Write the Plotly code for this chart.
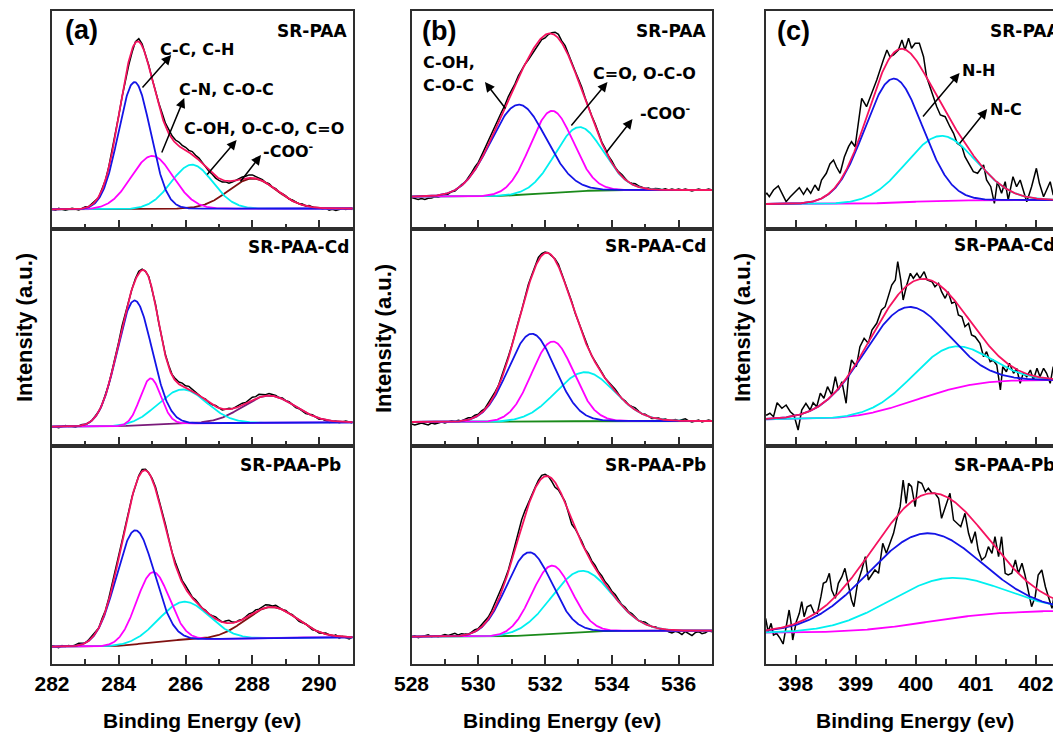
import math
import numpy as np
import plotly.graph_objects as go

# The page places the figure 8 px from the top-left corner, so the figure is
# built 8 px smaller and every reference pixel position is shifted by 8.
OFF = 8
W, H = 1061 - OFF, 733 - OFF

# ---------------- data (intensity in arbitrary units) ----------------
# Panel (a) C 1s : components C-C/C-H, C-N/C-O-C, C-OH/O-C-O/C=O, -COO-
a_range = [282.0, 291.0]
a_bg = [(19.7, 20.5), (19.3, 23.7), (17.3, 26.7)]
a_centers = [[284.47, 285.00, 286.19, 288.01],
             [284.47, 284.95, 285.91, 288.49],
             [284.49, 285.02, 285.96, 288.56]]
a_heights = [[127, 53, 44, 30], [125, 46, 34, 27], [114, 70, 38, 31]]
a_widths = [[0.48, 0.63, 0.62, 0.72], [0.52, 0.31, 0.72, 0.78], [0.57, 0.49, 0.74, 0.77]]
# raw-minus-fit residuals, 0.1 eV steps from 282.0
a_resid = [
    [0, -1, 1, 0, -1, 0, 1, 0, -1, 0, 1, 0, 1, 0, -1, 1, 0, 1, 2, 1,
     0, -1, -2, -4, -3, 1, 3, 2, 0, 1, 1, 2, 3, 4, 3, 4, 3, 3, 4, 3,
     3, 2, 3, 2, 2, 1, 0, -1, -1, -2, -2, -2, -1, -2, -1, 0, 1, 2, 2, 3,
     3, 2, 1, 1, 0, 1, 0, 1, 0, 1, 1, 0, 1, 1, 0, 1, 0, 1, 0, -1,
     0, -1, 0, -2, -1, -2, -1, 0, -1, 0, -1],
    [0, 0, -1, 0, 1, 0, 0, -1, 0, 1, 0, 0, 0, 1, 0, 0, 1, 0, 1, 0,
     0, 1, 0, -1, 0, 1, 2, 1, 0, 1, 0, 1, 0, 1, 1, 2, 1, 2, 2, 3,
     2, 3, 2, 1, 1, 0, 1, 0, 0, 1, 0, -1, 0, 1, 0, 1, 1, 2, 1, 2,
     3, 2, 3, 2, 1, 2, 1, 1, 0, 1, 0, 1, 0, -1, 0, 0, -1, 0, 1, 0,
     -1, 0, -1, -2, -1, 0, -1, 0, 1, 0, -1],
    [1, 0, -1, 1, 0, 1, 0, 1, 2, 1, 0, 1, 2, 1, 0, 2, 1, 2, 3, 2,
     2, 1, 0, -1, 0, -1, 1, 2, 1, 0, 1, 2, 2, 3, 4, 3, 2, 3, 3, 2,
     3, 2, 1, 2, 1, 0, 1, 0, 1, 2, 1, 0, 2, 3, 1, 0, 1, 0, 1, 2,
     1, 2, 1, 2, 3, 2, 1, 2, 1, 0, 1, 0, 1, 0, -1, 0, 1, 0, -1, 0,
     -1, 0, 1, 0, -1, 1, -2, 0, -1, -2, 0],
]

# Panel (b) O 1s : components C-OH/C-O-C, C=O/O-C-O, -COO-
b_range = [528.0, 537.0]
b_bg = [(32.3, 39.0), (24.0, 25.0), (27.3, 33.3)]
b_centers = [[531.20, 532.20, 533.02], [531.60, 532.23, 533.20], [531.52, 532.20, 533.10]]
b_heights = [[90.5, 82, 64], [88, 80, 49], [83, 68, 61]]
b_widths = [[0.83, 0.64, 0.72], [0.70, 0.63, 0.87], [0.68, 0.60, 0.90]]
b_resid = [
    [-1, -2, -3, -2, -3, -2, -2, -1, -2, -1, -1, -1, 0, -1, 0, 1, 0, 1, 2, 3,
     2, 3, 4, 3, 4, 5, 4, 3, 2, 3, 2, 1, 2, 1, 0, -2, -3, -4, -3, -2,
     -3, -1, 1, 3, 4, 2, 3, 1, 2, 1, 2, 3, 2, 1, 2, 3, 2, 1, 2, 1,
     2, 1, 1, 2, 1, 0, 1, 2, 1, 1, 0, 1, 0, 1, 1, 0, 1, 0, 1, 0,
     1, 0, 1, 0, -1, 0, 1, 0, 0, 1, 0],
    [-2, -3, -2, -1, -2, -3, -1, -2, -1, 0, -1, 0, 1, 0, 1, 0, 1, 2, 1, 2,
     1, 2, 1, 2, 3, 2, 1, 2, 1, 2, 1, 2, 1, 0, 1, 2, 1, 2, 3, 2,
     1, 0, -1, 1, 2, 1, 2, 3, 2, 1, 2, 1, 2, 1, 0, 1, 2, 1, 0, 1,
     1, 2, 1, 0, 1, 0, 1, 2, 1, 0, 1, 0, -1, 0, 1, 0, 1, 0, 0, 1,
     0, 1, 2, 0, -1, 0, 1, -1, 0, 1, 0],
    [0, 1, -1, 0, 1, 2, 0, 1, 0, 1, 2, 1, 2, 3, 1, 2, 1, 0, 1, 2,
     1, 2, 3, 2, 3, 4, 5, 4, 3, 2, 3, 4, 6, 7, 5, 3, 2, 1, 2, 3,
     2, 0, -3, -5, -2, -1, 1, -2, -5, -1, 1, 2, 1, 3, 2, 3, 2, 3, 2, 3,
     2, 3, 2, 1, 2, 1, 2, 1, 0, 1, 2, 1, 0, 1, 0, -1, 0, -2, -3, -1,
     -2, -4, -1, -3, -5, -2, -1, -3, -2, 0, -1],
]

# Panel (c) N 1s : components N-H, N-C
c_range = [397.5, 402.42]
c_bg = [(25.0, 29.0), (26.7, 66.0), (31.3, 53.3)]
c_centers = [[399.63, 400.42], [399.80, 400.57], [400.11, 400.45]]
c_heights = [[124, 65], [96, 42], [89, 41]]
c_widths = [[0.48, 0.58], [0.70, 0.62], [0.95, 0.95]]
# raw N 1s spectra (noisy)
c_raw_x = [
    [397.50, 397.52, 397.56, 397.63, 397.71, 397.79, 397.84, 397.91, 397.99, 398.06,
     398.13, 398.19, 398.25, 398.32, 398.38, 398.43, 398.51, 398.57, 398.63, 398.68,
     398.74, 398.81, 398.88, 398.93, 398.99, 399.04, 399.10, 399.18, 399.27, 399.35,
     399.46, 399.52, 399.57, 399.63, 399.71, 399.77, 399.82, 399.88, 399.93, 399.99,
     400.06, 400.13, 400.18, 400.27, 400.35, 400.41, 400.49, 400.57, 400.63, 400.69,
     400.77, 400.82, 400.88, 400.96, 401.03, 401.13, 401.18, 401.25, 401.31, 401.36,
     401.43, 401.49, 401.54, 401.62, 401.68, 401.74, 401.79, 401.85, 401.93, 402.01,
     402.06, 402.13, 402.18, 402.24, 402.29, 402.35, 402.42, 402.50],
    [397.50, 397.52, 397.57, 397.63, 397.69, 397.77, 397.84, 397.91, 397.97, 398.04,
     398.10, 398.17, 398.24, 398.29, 398.35, 398.41, 398.47, 398.53, 398.60, 398.66,
     398.71, 398.77, 398.84, 398.88, 398.93, 399.01, 399.07, 399.14, 399.21, 399.27,
     399.35, 399.43, 399.49, 399.54, 399.60, 399.66, 399.70, 399.75, 399.79, 399.85,
     399.91, 399.96, 400.02, 400.07, 400.14, 400.19, 400.27, 400.32, 400.38, 400.43,
     400.49, 400.54, 400.60, 400.66, 400.71, 400.77, 400.82, 400.88, 400.93, 400.99,
     401.07, 401.13, 401.18, 401.24, 401.29, 401.35, 401.41, 401.45, 401.51, 401.56,
     401.63, 401.68, 401.74, 401.79, 401.85, 401.91, 401.96, 402.02, 402.07, 402.13,
     402.18, 402.24, 402.29, 402.35, 402.42, 402.50],
    [397.50, 397.54, 397.59, 397.63, 397.68, 397.74, 397.79, 397.84, 397.89, 397.92,
     397.95, 398.01, 398.06, 398.10, 398.14, 398.19, 398.25, 398.31, 398.36, 398.42,
     398.46, 398.51, 398.56, 398.60, 398.66, 398.71, 398.77, 398.82, 398.88, 398.93,
     398.97, 399.03, 399.10, 399.16, 399.21, 399.27, 399.32, 399.38, 399.45, 399.51,
     399.57, 399.63, 399.68, 399.74, 399.79, 399.84, 399.88, 399.93, 399.99, 400.04,
     400.10, 400.16, 400.21, 400.27, 400.32, 400.38, 400.43, 400.49, 400.57, 400.63,
     400.69, 400.75, 400.82, 400.88, 400.93, 400.99, 401.04, 401.10, 401.16, 401.21,
     401.27, 401.32, 401.38, 401.43, 401.49, 401.54, 401.60, 401.66, 401.71, 401.77,
     401.82, 401.88, 401.93, 401.99, 402.04, 402.10, 402.16, 402.21, 402.27, 402.32,
     402.38, 402.42, 402.50],
]
c_raw_y = [
    [35.0, 35.7, 32.3, 39.0, 43.0, 34.0, 27.3, 32.3, 37.3, 41.3,
     34.7, 40.7, 35.7, 44.0, 38.3, 49.0, 55.7, 65.0, 69.0, 62.0,
     55.7, 72.0, 82.3, 87.3, 82.3, 102.3, 130.7, 122.3, 135.7, 149.0,
     169.0, 179.0, 172.3, 174.0, 179.0, 189.0, 179.0, 190.7, 180.7, 185.7,
     185.7, 172.3, 152.3, 135.7, 122.3, 114.0, 112.3, 102.3, 95.7, 85.7,
     82.3, 72.3, 65.7, 57.3, 55.7, 64.0, 49.0, 42.3, 25.7, 47.3,
     35.7, 47.3, 29.0, 52.3, 42.3, 49.0, 39.0, 27.3, 42.3, 60.7,
     45.7, 32.3, 39.0, 47.3, 34.0, 49.0, 42.3, 38.0],
    [31.0, 31.0, 32.7, 29.3, 43.3, 37.7, 41.0, 34.3, 31.0, 16.0,
     36.0, 42.7, 36.0, 43.3, 39.3, 52.7, 47.7, 59.3, 51.0, 69.3,
     56.0, 64.3, 42.7, 69.3, 86.0, 79.3, 99.3, 107.7, 102.7, 116.0,
     122.7, 136.0, 139.3, 149.3, 161.0, 166.0, 184.3, 166.0, 146.0, 161.0,
     172.7, 167.7, 172.7, 167.7, 174.3, 166.0, 164.3, 159.3, 162.7, 154.3,
     147.7, 154.3, 142.7, 144.3, 131.0, 129.3, 119.3, 122.7, 111.0, 109.3,
     102.7, 89.3, 94.3, 84.3, 86.0, 81.0, 56.0, 79.3, 74.3, 82.7,
     72.7, 77.7, 62.7, 72.7, 69.3, 76.0, 66.0, 77.7, 69.3, 77.7,
     72.7, 62.7, 79.3, 72.7, 79.3, 70.0],
    [45.7, 32.3, 40.7, 29.0, 30.7, 25.7, 20.0, 37.3, 54.0, 42.3,
     24.0, 42.3, 50.7, 62.3, 47.3, 57.3, 59.0, 50.7, 50.7, 67.3,
     80.7, 82.3, 90.7, 74.0, 65.7, 80.7, 87.3, 95.7, 77.3, 64.0,
     57.3, 80.7, 94.0, 107.3, 84.0, 89.0, 94.0, 90.7, 120.7, 110.7,
     120.7, 130.7, 144.0, 157.3, 184.0, 160.7, 180.7, 177.3, 157.3, 182.3,
     180.7, 172.3, 175.7, 170.7, 170.7, 165.7, 145.7, 157.3, 170.7, 144.0,
     140.7, 137.3, 150.7, 130.7, 120.7, 132.3, 114.0, 104.0, 107.3, 117.3,
     110.7, 127.3, 107.3, 127.3, 90.7, 89.0, 90.7, 104.0, 90.7, 100.7,
     89.0, 72.3, 57.3, 67.3, 89.0, 94.0, 77.3, 67.3, 55.7, 74.0,
     84.0, 64.0, 70.0],
]

row_labels = ["SR-PAA", "SR-PAA-Cd", "SR-PAA-Pb"]
row_heights_px = [218, 217, 218]

# ---------------- helpers ----------------
_erf = np.vectorize(math.erf)


def gauss(x, c, h, s):
    return h * np.exp(-(x - c) ** 2 / (2 * s * s))


def shirley(x, cs, hs, ss, lo, hi):
    areas = [h * s for h, s in zip(hs, ss)]
    cum = sum(ar * 0.5 * (1 + _erf((x - c) / (s * math.sqrt(2))))
              for ar, c, s in zip(areas, cs, ss))
    return lo + (hi - lo) * cum / sum(areas)


def envelope(x, cs, hs, ss, lo, hi):
    return shirley(x, cs, hs, ss, lo, hi) + sum(gauss(x, c, h, s) for c, h, s in zip(cs, hs, ss))


def fx(px):
    return (px - OFF) / W


def fy(py):
    return 1 - (py - OFF) / H


# ---------------- layout geometry (reference pixels) ----------------
col_px = [(52.0, 352.5), (411.5, 712.0), (765.7, 1061.0)]
row_px = [(11.0, 229.0), (229.0, 446.0), (446.0, 664.0)]

RED = "#f5135f"
BLUE = "#1414e6"
MAG = "#ff00ff"
CYAN = "#00f0f0"
BROWN = "#801010"
PURPLE = "#7a1a7a"
GREEN = "#1a8a1a"
FRAME = "#2e2e2e"

fig = go.Figure()


def ax_id(r, c):
    return r * 3 + c + 1


def add_line(k, x, y, color, width=1.8):
    fig.add_trace(go.Scatter(x=x, y=y, mode="lines", line=dict(color=color, width=width),
                             xaxis=f"x{k}", yaxis=f"y{k}", showlegend=False, hoverinfo="skip"))


panels = [
    (a_range, a_bg, a_centers, a_heights, a_widths),
    (b_range, b_bg, b_centers, b_heights, b_widths),
    (c_range, c_bg, c_centers, c_heights, c_widths),
]

for col, (xr, bgs, centers, heights, widths) in enumerate(panels):
    for row in range(3):
        k = ax_id(row, col)
        cs, hs, ss = centers[row], heights[row], widths[row]
        lo, hi = bgs[row]
        xs = np.linspace(xr[0], xr[1] + 0.1, 600)
        bg = shirley(xs, cs, hs, ss, lo, hi)
        # raw data
        if col == 0:
            res = a_resid[row]
            xr_ = np.array([282.0 + 0.1 * i for i in range(len(res))])
            add_line(k, xr_, envelope(xr_, cs, hs, ss, lo, hi) + np.array(res), "black", 1.5)
        elif col == 1:
            res = b_resid[row]
            xr_ = np.array([528.0 + 0.1 * i for i in range(len(res))])
            add_line(k, xr_, envelope(xr_, cs, hs, ss, lo, hi) + np.array(res), "black", 1.5)
        else:
            add_line(k, c_raw_x[row], c_raw_y[row], "black", 1.5)
        # fitted components (drawn on the background)
        if col == 0:
            last_color = PURPLE if row == 1 else BROWN
            add_line(k, xs, bg + gauss(xs, cs[3], hs[3], ss[3]), last_color)
            add_line(k, xs, bg + gauss(xs, cs[2], hs[2], ss[2]), CYAN)
            add_line(k, xs, bg + gauss(xs, cs[1], hs[1], ss[1]), MAG)
            add_line(k, xs, bg + gauss(xs, cs[0], hs[0], ss[0]), BLUE)
        elif col == 1:
            add_line(k, xs, bg, GREEN)
            add_line(k, xs, bg + gauss(xs, cs[2], hs[2], ss[2]), CYAN)
            add_line(k, xs, bg + gauss(xs, cs[1], hs[1], ss[1]), MAG)
            add_line(k, xs, bg + gauss(xs, cs[0], hs[0], ss[0]), BLUE)
        else:
            add_line(k, xs, bg, MAG)
            add_line(k, xs, bg + gauss(xs, cs[1], hs[1], ss[1]), CYAN)
            add_line(k, xs, bg + gauss(xs, cs[0], hs[0], ss[0]), BLUE)
        add_line(k, xs, envelope(xs, cs, hs, ss, lo, hi), RED)

# ---------------- axes ----------------
layout = dict(width=W, height=H, margin=dict(l=0, r=0, t=0, b=0, pad=0, autoexpand=False),
              paper_bgcolor="white", plot_bgcolor="white", showlegend=False)
tickfont = dict(family="Liberation Sans", size=21, color="black", weight="bold")
for col in range(3):
    x0, x1 = col_px[col]
    xr = panels[col][0]
    for row in range(3):
        k = ax_id(row, col)
        y0, y1 = row_px[row]
        major = 2 if col < 2 else 1
        minor = 1 if col < 2 else 0.5
        layout[f"xaxis{k}"] = dict(
            domain=[fx(x0), min(1.0, fx(x1))], anchor=f"y{k}", range=xr,
            showline=True, linecolor=FRAME, linewidth=2, mirror=True,
            ticks="inside", ticklen=9, tickwidth=1.5, tickcolor=FRAME,
            dtick=major, tick0=0, showgrid=False, zeroline=False, automargin=False,
            showticklabels=(row == 2), tickfont=tickfont,
            minor=dict(ticks="inside", ticklen=5, tickwidth=1.5, tickcolor=FRAME, dtick=minor, showgrid=False),
        )
        layout[f"yaxis{k}"] = dict(
            domain=[fy(y1), fy(y0)], anchor=f"x{k}", range=[0, row_heights_px[row]],
            showline=True, linecolor=FRAME, linewidth=2, mirror=(col < 2),
            ticks="", showticklabels=False, showgrid=False, zeroline=False, automargin=False,
        )
fig.update_layout(**layout)

# ---------------- annotations ----------------
ann = []
lab_font = dict(family="DejaVu Sans", size=17, color="black", weight="bold")
chem_font = dict(family="DejaVu Sans", size=16, color="black", weight="bold")


def paper_text(text, px, py, xanchor, font, angle=0):
    ann.append(dict(text=text, x=fx(px), y=fy(py), xref="paper", yref="paper",
                    xanchor=xanchor, yanchor="middle", showarrow=False, font=font, textangle=angle))


# panel letters
letter_font = dict(family="Liberation Sans", size=27, color="black", weight="bold")
paper_text("(a)", 63, 30, "left", letter_font)
paper_text("(b)", 420, 31, "left", letter_font)
paper_text("(c)", 775, 31, "left", letter_font)

# sample labels
for (txt, px, py) in [("SR-PAA", 349, 31), ("SR-PAA-Cd", 351, 247), ("SR-PAA-Pb", 343, 465)]:
    paper_text(txt, px, py, "right", lab_font)
for (txt, px, py) in [("SR-PAA", 708, 31), ("SR-PAA-Cd", 708, 246), ("SR-PAA-Pb", 708, 465)]:
    paper_text(txt, px, py, "right", lab_font)
for (txt, px, py) in [("SR-PAA", 988, 31), ("SR-PAA-Cd", 952, 245), ("SR-PAA-Pb", 952, 465)]:
    paper_text(txt, px, py, "left", lab_font)

# axis titles
title_font = dict(family="Liberation Sans", size=21, color="black", weight="bold")
for cx in (202, 561.5, 915):
    paper_text("Binding Energy (ev)", cx, 720, "center", title_font)
yt_font = dict(family="Liberation Sans", size=22, color="black", weight="bold")
for cx, cy in ((24, 328), (383, 339), (742, 328)):
    paper_text("Intensity (a.u.)", cx, cy, "center", yt_font, angle=-90)

# chemical-state labels (data coordinates of first row)
chem_labels = [
    (1, "C-C, C-H", 285.16, 180),
    (1, "C-N, C-O-C", 285.75, 140),
    (1, "C-OH, O-C-O, C=O", 285.88, 101),
    (1, "-COO<sup>-</sup>", 288.27, 79),
    (2, "C-OH,", 528.28, 167),
    (2, "C-O-C", 528.28, 144),
    (2, "C=O, O-C-O", 533.38, 156),
    (2, "-COO<sup>-</sup>", 534.78, 117),
    (3, "N-H", 400.74, 159),
    (3, "N-C", 401.2, 120),
]
for k, txt, x, y in chem_labels:
    ann.append(dict(text=txt, x=x, y=y, xref=f"x{k}", yref=f"y{k}", xanchor="left", yanchor="middle",
                    showarrow=False, font=chem_font))

# arrows: (axis, tail x, tail y, head x, head y)
arrows = [
    (1, 284.67, 140, 285.57, 174),
    (1, 285.27, 75, 285.96, 131),
    (1, 286.61, 53, 287.53, 89),
    (1, 287.61, 46, 288.26, 74),
    (2, 530.85, 119, 530.20, 147),
    (2, 532.75, 102, 533.87, 147),
    (2, 533.80, 75, 534.62, 110),
    (3, 400.10, 111, 400.73, 156),
    (3, 400.71, 84, 401.19, 120),
]
for k, tx, ty, hx, hy in arrows:
    ann.append(dict(text="", x=hx, y=hy, ax=tx, ay=ty, xref=f"x{k}", yref=f"y{k}",
                    axref=f"x{k}", ayref=f"y{k}", showarrow=True, arrowhead=2, arrowsize=1.3,
                    arrowwidth=1.5, arrowcolor="black"))

fig.update_layout(annotations=ann)
fig.write_html("out.html")
